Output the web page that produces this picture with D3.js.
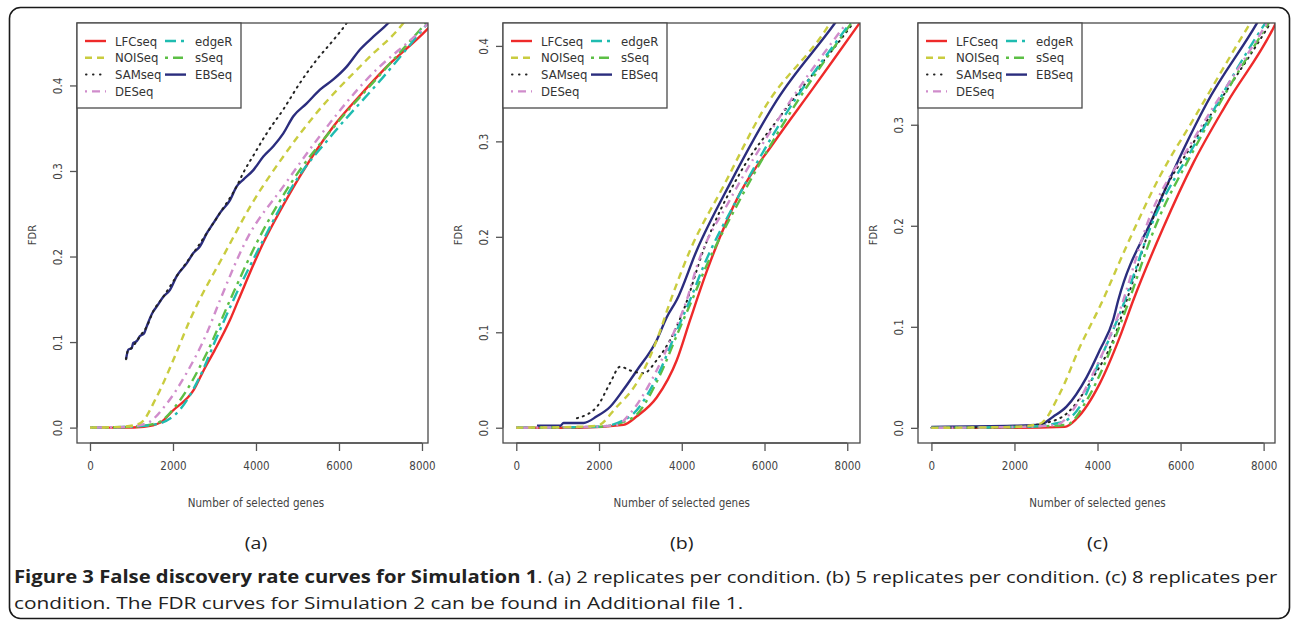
<!DOCTYPE html>
<html><head><meta charset="utf-8">
<script src="https://cdn.jsdelivr.net/npm/d3@7"></script>
<style>
body{margin:0;background:#fff;}
svg{display:block;}
</style></head>
<body>
<svg id="c" width="1292" height="621"></svg>
<script>
const methods = ["LFCseq","NOISeq","SAMseq","DESeq","edgeR","sSeq","EBSeq"];
const xTicks = [0,2000,4000,6000,8000];
const yTicksAB = [0,0.1,0.2,0.3,0.4];
const yTicksC = [0,0.1,0.2,0.3];
const panelLabels = ["(a)","(b)","(c)"];

// Panel (a): 2 replicates
const a_LFCseq = [[0,0],[800,0],[1300,0.001],[1700,0.006],[2000,0.02],[2500,0.044],[2750,0.068],[3000,0.09],[3375,0.126],[3575,0.149],[4177,0.216],[4600,0.255],[5061,0.294],[5864,0.352],[6500,0.388],[7070,0.418],[8155,0.467],[8400,0.48]];
const a_NOISeq = [[0,0],[800,0.001],[1205,0.005],[1607,0.036],[2008,0.079],[2410,0.126],[3294,0.208],[3856,0.258],[4659,0.317],[5463,0.368],[6668,0.43],[7551,0.473],[7800,0.49]];
const a_SAMseq = [[868,0.080],[923,0.091],[1004,0.093],[1125,0.101],[1205,0.107],[1366,0.118],[1526,0.136],[1767,0.153],[2089,0.177],[2490,0.204],[2812,0.227],[3133,0.251],[3535,0.282],[3695,0.298],[3936,0.318],[4258,0.344],[4659,0.372],[5061,0.403],[5463,0.430],[5864,0.453],[6186,0.473],[6400,0.49]];
const a_DESeq = [[0,0],[900,0.001],[1366,0.005],[1848,0.028],[2330,0.064],[2812,0.110],[3133,0.149],[3776,0.22],[4659,0.282],[5463,0.336],[6668,0.407],[8033,0.467],[8300,0.48]];
const a_edgeR = [[0,0],[1000,0.001],[1600,0.004],[2169,0.021],[2651,0.06],[3050,0.105],[3454,0.149],[4097,0.212],[4981,0.29],[5864,0.344],[7070,0.41],[8145,0.473],[8300,0.482]];
const a_sSeq = [[0,0],[1000,0.001],[1600,0.005],[2169,0.032],[2812,0.087],[3374,0.149],[4017,0.216],[4900,0.29],[5800,0.347],[7000,0.413],[8100,0.473],[8300,0.484]];
const a_EBSeq = [[868,0.080],[923,0.091],[1004,0.093],[1044,0.099],[1125,0.101],[1205,0.107],[1301,0.110],[1366,0.118],[1446,0.128],[1526,0.136],[1607,0.1415],[1767,0.153],[1928,0.161],[2089,0.177],[2330,0.192],[2490,0.204],[2651,0.212],[2812,0.227],[2972,0.239],[3133,0.251],[3374,0.266],[3535,0.282],[3695,0.290],[3936,0.301],[4177,0.317],[4418,0.329],[4659,0.344],[4900,0.364],[5222,0.379],[5543,0.395],[5864,0.407],[6186,0.422],[6507,0.442],[6828,0.457],[7190,0.473],[7400,0.485]];

// Panel (b): 5 replicates
const b_LFCseq = [[0,0],[1500,0],[2592,0.003],[2914,0.012],[3398,0.032],[3881,0.071],[4202,0.113],[4605,0.164],[5410,0.246],[6214,0.298],[7180,0.356],[8267,0.422],[8400,0.43]];
const b_NOISeq = [[0,0],[1500,0.001],[1949,0.002],[2431,0.022],[2914,0.047],[3398,0.092],[3719,0.132],[4202,0.186],[5007,0.253],[5973,0.333],[7583,0.424],[7800,0.44]];
const b_SAMseq = [[1466,0.01],[1949,0.022],[2270,0.047],[2512,0.064],[2753,0.06],[3074,0.057],[3398,0.071],[3719,0.092],[4041,0.123],[4524,0.186],[5410,0.267],[6376,0.326],[8146,0.424],[8300,0.433]];
const b_DESeq = [[0,0],[1800,0.001],[2431,0.003],[2753,0.015],[3236,0.047],[3800,0.099],[4122,0.134],[4364,0.169],[5168,0.239],[6376,0.326],[7986,0.424],[8200,0.436]];
const b_edgeR = [[0,0],[2000,0.001],[2753,0.012],[3398,0.053],[3881,0.102],[4202,0.134],[4524,0.169],[5330,0.239],[6376,0.319],[8066,0.424],[8250,0.435]];
const b_sSeq = [[0,0],[2000,0.001],[2800,0.01],[3450,0.053],[3930,0.102],[4250,0.134],[4570,0.167],[5370,0.236],[6420,0.316],[8100,0.424],[8300,0.436]];
const b_EBSeq = [[500,0.002],[1063,0.002],[1143,0.005],[1626,0.005],[1949,0.012],[2270,0.022],[2592,0.04],[2914,0.06],[3398,0.092],[3640,0.116],[3881,0.134],[4364,0.186],[5168,0.256],[6295,0.343],[7704,0.424],[7900,0.436]];

// Panel (c): 8 replicates
const c_LFCseq = [[0,0],[2048,0],[3213,0.001],[3494,0.009],[4056,0.044],[4538,0.09],[4859,0.126],[5582,0.198],[6305,0.262],[7109,0.321],[8274,0.399],[8400,0.41]];
const c_NOISeq = [[0,0],[2000,0.001],[2610,0.004],[3092,0.034],[3574,0.08],[4056,0.12],[4700,0.18],[5502,0.249],[6305,0.305],[7671,0.400],[7900,0.415]];
const c_SAMseq = [[0,0],[2000,0.001],[2770,0.005],[3253,0.014],[3895,0.05],[4377,0.087],[4700,0.126],[5502,0.225],[6305,0.282],[8153,0.400],[8300,0.41]];
const c_DESeq = [[0,0],[2200,0.001],[3012,0.003],[3413,0.018],[3895,0.054],[4458,0.107],[5261,0.209],[6305,0.285],[8073,0.400],[8250,0.412]];
const c_edgeR = [[0,0],[2200,0.001],[3092,0.005],[3574,0.021],[4056,0.067],[4538,0.113],[5341,0.205],[6305,0.278],[8033,0.400],[8250,0.413]];
const c_sSeq = [[0,0],[2200,0.001],[3253,0.003],[3736,0.027],[4136,0.06],[4618,0.11],[5400,0.2],[6305,0.274],[8113,0.400],[8300,0.412]];
const c_EBSeq = [[0,0.001],[2000,0.002],[2610,0.003],[2931,0.011],[3253,0.021],[3736,0.05],[4056,0.077],[4377,0.107],[4497,0.126],[5341,0.209],[6064,0.275],[6627,0.321],[7833,0.400],[8000,0.412]];

const captionBold = "Figure 3 False discovery rate curves for Simulation 1";
const captionRest = ". (a) 2 replicates per condition. (b) 5 replicates per condition. (c) 8 replicates per";
const captionLine2 = "condition. The FDR curves for Simulation 2 can be found in Additional file 1.";

const panels = [
  {series:[a_LFCseq,a_NOISeq,a_SAMseq,a_DESeq,a_edgeR,a_sSeq,a_EBSeq], yTicks:yTicksAB, xDom:[-313,8145], yDom:[-0.018,0.473], left:77, right:428},
  {series:[b_LFCseq,b_NOISeq,b_SAMseq,b_DESeq,b_edgeR,b_sSeq,b_EBSeq], yTicks:yTicksAB, xDom:[-321,8308], yDom:[-0.016,0.424], left:503, right:860},
  {series:[c_LFCseq,c_NOISeq,c_SAMseq,c_DESeq,c_edgeR,c_sSeq,c_EBSeq], yTicks:yTicksC, xDom:[-323,8274], yDom:[-0.015,0.4007], left:918, right:1275}
];

const styles = {
  LFCseq:{color:"#ee2a2a", dash:null},
  NOISeq:{color:"#c9cc3f", dash:"7,5"},
  SAMseq:{color:"#222222", dash:"1.2,5"},
  DESeq:{color:"#d08ccb", dash:"2,5,8,5"},
  edgeR:{color:"#1fbcb0", dash:"11,5,3,5"},
  sSeq:{color:"#5cbf45", dash:"3,5,10,5"},
  EBSeq:{color:"#2b2d7e", dash:null}
};
const drawOrder = ["LFCseq","EBSeq","SAMseq","sSeq","edgeR","DESeq","NOISeq"];

const svg = d3.select("#c");
const TOP = 23, BOTTOM = 443;
const narrow = "'Liberation Sans Narrow','DejaVu Sans Condensed',sans-serif";

// outer frame
svg.append("rect").attr("x",9.5).attr("y",7.5).attr("width",1280).attr("height",611)
  .attr("rx",11).attr("ry",11).attr("fill","none").attr("stroke","#1a1a1a").attr("stroke-width",1.6);

panels.forEach((p,pi)=>{
  const x = d3.scaleLinear().domain(p.xDom).range([p.left,p.right]);
  const y = d3.scaleLinear().domain(p.yDom).range([BOTTOM,TOP]);
  const g = svg.append("g");
  const clipId = "clip"+pi;
  g.append("clipPath").attr("id",clipId).append("rect")
    .attr("x",p.left).attr("y",TOP).attr("width",p.right-p.left).attr("height",BOTTOM-TOP);

  const line = d3.line().x(d=>x(d[0])).y(d=>y(d[1])).curve(d3.curveMonotoneX);
  const cg = g.append("g").attr("clip-path",`url(#${clipId})`);
  drawOrder.forEach(m=>{
    const i = methods.indexOf(m);
    const st = styles[m];
    const path = cg.append("path").datum(p.series[i]).attr("d",line)
      .attr("fill","none").attr("stroke",st.color).attr("stroke-width",2.4)
      .attr("stroke-linejoin","round");
    if(st.dash) path.attr("stroke-dasharray",st.dash);
    if(m==="SAMseq") path.attr("stroke-linecap","round").attr("stroke-width",2);
  });

  // box
  g.append("rect").attr("x",p.left).attr("y",TOP).attr("width",p.right-p.left).attr("height",BOTTOM-TOP)
    .attr("fill","none").attr("stroke","#4a4a4a").attr("stroke-width",1.3);

  // x axis
  const xa = g.append("g").attr("transform",`translate(0,${BOTTOM})`)
    .call(d3.axisBottom(x).tickValues(xTicks).tickFormat(d3.format("d")).tickSize(8).tickPadding(11));
  xa.select(".domain").attr("d",`M${x(0)},0H${x(8000)}`).attr("stroke","#555").attr("stroke-width",1.3);
  xa.selectAll(".tick line").attr("stroke","#555").attr("stroke-width",1.3);
  xa.selectAll("text").attr("font-family",narrow).attr("font-size",11.5).attr("fill","#444");

  // y axis
  const ya = g.append("g").attr("transform",`translate(${p.left},0)`)
    .call(d3.axisLeft(y).tickValues(p.yTicks).tickFormat(d3.format(".1f")).tickSize(7).tickPadding(0));
  ya.select(".domain").attr("d",`M0,${y(0)}V${y(p.yTicks[p.yTicks.length-1])}`).attr("stroke","#555").attr("stroke-width",1.3);
  ya.selectAll(".tick line").attr("stroke","#555").attr("stroke-width",1.3);
  ya.selectAll(".tick text").attr("x",null).attr("dy",null)
    .attr("transform","translate(-19,0) rotate(-90)")
    .attr("text-anchor","middle").attr("dominant-baseline","central")
    .attr("font-family",narrow).attr("font-size",11.5).attr("fill","#444");

  // axis titles
  g.append("text").attr("x",(x(0)+x(8000))/2).attr("y",507).attr("text-anchor","middle")
    .attr("font-family",narrow).attr("font-size",11.5).attr("fill","#444").text("Number of selected genes");
  g.append("text").attr("transform",`translate(${p.left-45},${(TOP+BOTTOM)/2+2}) rotate(-90)`)
    .attr("text-anchor","middle").attr("dominant-baseline","central")
    .attr("font-family","'DejaVu Sans',sans-serif").attr("font-size",10).attr("fill","#444").text("FDR");

  // legend
  const lg = g.append("g").attr("transform",`translate(${p.left},${TOP})`);
  lg.append("rect").attr("x",0).attr("y",0).attr("width",164).attr("height",85)
    .attr("fill","#fff").attr("stroke","#4a4a4a").attr("stroke-width",1.3);
  const legendCols = [["LFCseq","NOISeq","SAMseq","DESeq"],["edgeR","sSeq","EBSeq"]];
  legendCols.forEach((col,ci)=>{
    col.forEach((m,ri)=>{
      const ly = 18 + ri*16.8;
      const lx0 = ci===0 ? 8 : 88;
      const st = styles[m];
      const l = lg.append("line").attr("x1",lx0).attr("x2",lx0+21).attr("y1",ly).attr("y2",ly)
        .attr("stroke",st.color).attr("stroke-width",2.4);
      if(st.dash) l.attr("stroke-dasharray",st.dash);
      if(m==="SAMseq") l.attr("stroke-linecap","round").attr("stroke-width",2).attr("stroke-dasharray","0.5,6.5").attr("x1",lx0+1);
      lg.append("text").attr("x",ci===0?38:118).attr("y",ly).attr("dominant-baseline","central")
        .attr("font-family",narrow).attr("font-size",13).attr("fill","#333").text(m);
    });
  });

  // panel label
  svg.append("text").attr("transform",`translate(${(x(0)+x(8000))/2},549) scale(1.15,1)`).attr("text-anchor","middle")
    .attr("font-family","'Open Sans',sans-serif").attr("font-size",17).attr("fill","#222").text(panelLabels[pi]);
});

// caption: horizontally stretched like the reference; line 1 spans the full width
const capFont = "'Open Sans',sans-serif";
const line2 = svg.append("text").attr("x",0).attr("y",0)
  .attr("font-family",capFont).attr("font-size",17).attr("fill","#222").text(captionLine2);
const w2 = line2.node().getComputedTextLength();
const sx2 = 730 / w2;
line2.attr("transform",`translate(14,609) scale(${sx2},1)`);

const cap1 = svg.append("text").attr("x",0).attr("y",0)
  .attr("font-family",capFont).attr("font-size",17).attr("fill","#222");
cap1.append("tspan").attr("font-weight","bold").text(captionBold);
cap1.append("tspan").text(captionRest);
const w1 = cap1.node().getComputedTextLength();
const sx1 = 1264 / w1;
cap1.attr("transform",`translate(14,583) scale(${sx1},1)`);
</script>
</body></html>
